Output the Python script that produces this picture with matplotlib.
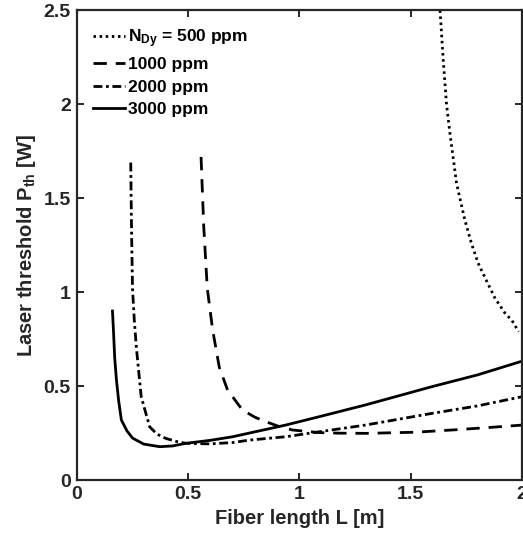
import matplotlib
matplotlib.use("Agg")
import matplotlib.pyplot as plt
from matplotlib.ticker import FuncFormatter

plt.rcParams['font.family'] = ['Liberation Sans', 'DejaVu Sans']
plt.rcParams['font.weight'] = 'bold'
plt.rcParams['mathtext.fontset'] = 'custom'
plt.rcParams['mathtext.rm'] = 'Liberation Sans:bold'
plt.rcParams['mathtext.it'] = 'Liberation Sans:bold'
plt.rcParams['mathtext.bf'] = 'Liberation Sans:bold'

# Laser threshold vs fiber length for several Dy concentrations
L_500 = [1.632, 1.646, 1.661, 1.676, 1.706, 1.743, 1.773, 1.803, 1.833, 1.878, 1.923, 1.955, 1.985]
P_500 = [2.50, 2.24, 2.00, 1.85, 1.58, 1.386, 1.26, 1.155, 1.08, 0.97, 0.89, 0.85, 0.79]

L_1000 = [0.558, 0.570, 0.586, 0.610, 0.640, 0.677, 0.744, 0.800, 0.849, 0.910, 0.968, 1.087, 1.177, 1.300, 1.520, 1.700, 1.850, 2.000]
P_1000 = [1.72, 1.35, 1.02, 0.80, 0.60, 0.48, 0.373, 0.335, 0.311, 0.285, 0.267, 0.253, 0.250, 0.249, 0.255, 0.268, 0.280, 0.293]

L_2000 = [0.242, 0.246, 0.250, 0.258, 0.267, 0.289, 0.327, 0.360, 0.400, 0.450, 0.490, 0.595, 0.700, 0.774, 0.938, 1.087, 1.296, 1.594, 1.800, 2.000]
P_2000 = [1.69, 1.30, 1.02, 0.85, 0.71, 0.444, 0.284, 0.245, 0.222, 0.205, 0.196, 0.193, 0.200, 0.213, 0.231, 0.257, 0.293, 0.355, 0.395, 0.444]

L_3000 = [0.160, 0.165, 0.170, 0.178, 0.188, 0.200, 0.225, 0.250, 0.300, 0.372, 0.430, 0.490, 0.600, 0.700, 0.938, 1.087, 1.296, 1.594, 1.800, 2.000]
P_3000 = [0.90, 0.78, 0.65, 0.53, 0.42, 0.32, 0.262, 0.224, 0.192, 0.178, 0.182, 0.196, 0.212, 0.231, 0.293, 0.337, 0.400, 0.497, 0.560, 0.633]

labels = [r'N$_{\rm Dy}$ = 500 ppm', '1000 ppm', '2000 ppm', '3000 ppm']

fig = plt.figure(figsize=(5.23, 5.45), dpi=100)
ax = fig.add_axes([0.147, 0.119, 0.851, 0.862])

lw = 2.0
ax.plot(L_500, P_500, color='black', lw=lw, linestyle=(0, (0.9, 1.3)), label=labels[0])
ax.plot(L_1000, P_1000, color='black', lw=lw, linestyle=(0, (4.8, 3.2)), label=labels[1])
ax.plot(L_2000, P_2000, color='black', lw=lw, linestyle=(0, (3.2, 1.3, 1.0, 1.3)), label=labels[2])
ax.plot(L_3000, P_3000, color='black', lw=lw, linestyle='-', label=labels[3])

ax.set_xlim(0, 2)
ax.set_ylim(0, 2.5)
ax.set_xticks([0, 0.5, 1, 1.5, 2])
ax.set_yticks([0, 0.5, 1, 1.5, 2, 2.5])
fmt = FuncFormatter(lambda v, p: ('%g' % v))
ax.xaxis.set_major_formatter(fmt)
ax.yaxis.set_major_formatter(fmt)

spine_color = '#262626'
for s in ax.spines.values():
    s.set_color(spine_color)
    s.set_linewidth(1.6)
ax.tick_params(direction='in', top=True, right=True, length=5, width=1.4,
               color=spine_color, labelsize=14, pad=4.5, labelcolor='#262626')
for t in ax.get_xticklabels() + ax.get_yticklabels():
    t.set_fontweight('bold')

ax.set_xlabel('Fiber length L [m]', fontsize=14.5, fontweight='bold', color='#262626', labelpad=4)
ax.set_ylabel(r'Laser threshold P$_{\rm th}$ [W]', fontsize=14.5, fontweight='bold', color='#262626', labelpad=4)

leg = ax.legend(loc='upper left', frameon=False, fontsize=12.5, handlelength=1.8,
                handletextpad=0.2, labelspacing=0.42, borderaxespad=0.3,
                bbox_to_anchor=(0.01, 0.99))
for t in leg.get_texts():
    t.set_fontweight('bold')

fig.savefig('out.png', dpi=100)
